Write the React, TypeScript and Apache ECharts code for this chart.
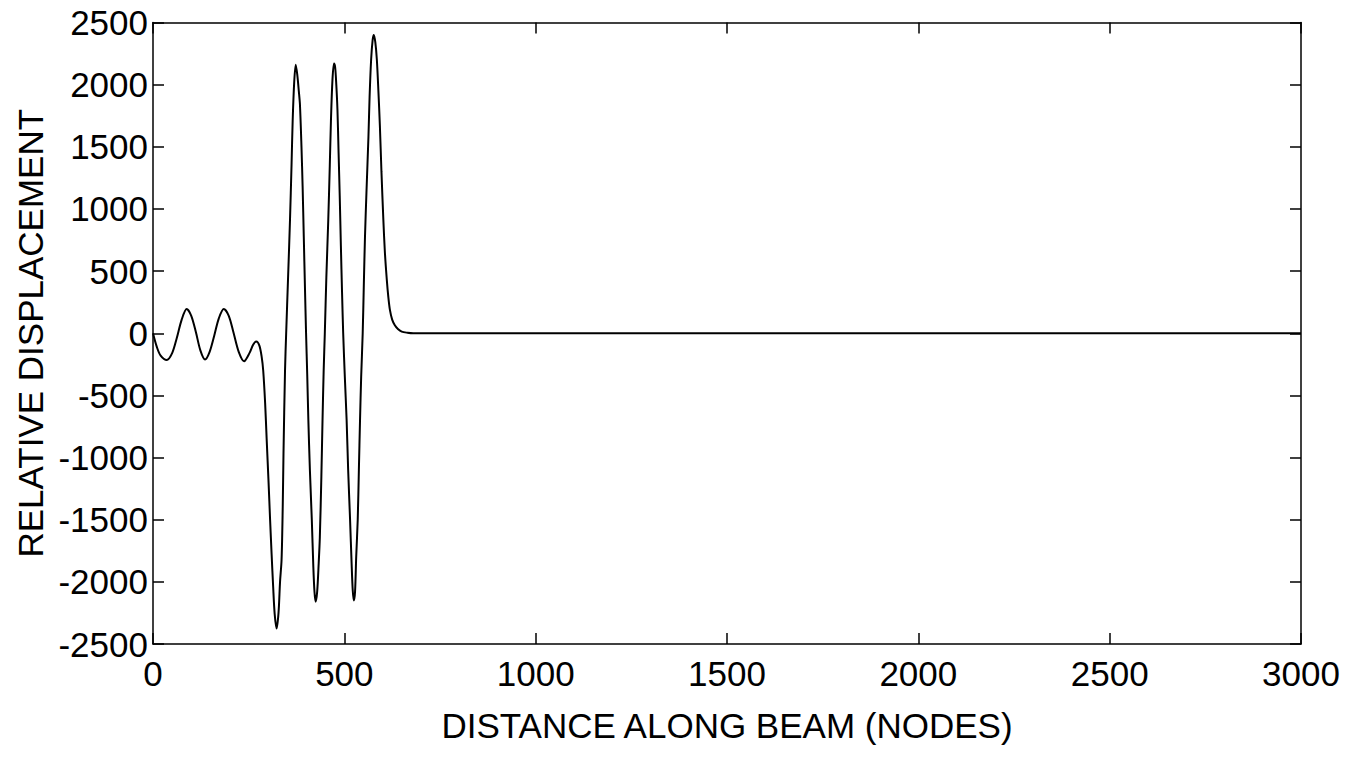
import React, { useEffect, useRef } from "react";
import * as echarts from "echarts";

const nodes: number[] = [
  0, 10, 20, 36, 50, 62, 75, 88, 100, 112, 124, 136, 148, 160, 172, 185, 198, 210, 224, 238,
  252, 262, 270, 278, 284, 288, 293, 297, 302, 306, 310, 314, 318, 323, 328, 332, 336, 339, 341, 345,
  348, 353, 358, 362, 365, 369, 373, 377, 381, 384, 388, 391, 394, 397, 400, 403, 406, 410, 415, 419,
  422, 425, 429, 433, 436, 440, 443, 446, 449, 453, 458, 462, 465, 469, 473, 476, 479, 482, 485, 488,
  491, 494, 497, 501, 506, 510, 515, 519, 522, 525, 528, 531, 535, 538, 541, 544, 548, 551, 554, 558,
  563, 566, 570, 574, 577, 581, 585, 589, 593, 597, 602, 606, 611, 615, 619, 625, 632, 640, 650, 665,
  680, 1000, 1500, 2000, 2500, 3000,
];

const displacement: number[] = [
  0, -110, -180, -215, -160, -40, 110, 195, 140, 10, -140, -212, -150, -20, 120, 195, 140, 10, -150, -225,
  -160, -90, -67, -100, -190, -300, -560, -850, -1200, -1500, -1780, -2040, -2260, -2375, -2250, -2000, -1820, -1400, -970, -300,
  0, 450, 910, 1350, 1710, 2020, 2160, 2080, 1950, 1840, 1500, 1180, 780, 380, 0, -330, -700, -1100, -1500, -1880,
  -2080, -2160, -2080, -1850, -1640, -1150, -700, -300, 0, 450, 910, 1350, 1710, 2040, 2170, 2140, 2000, 1800, 1450, 1100,
  700, 330, 0, -330, -700, -1100, -1500, -1850, -2070, -2150, -2080, -1800, -1500, -1100, -700, -350, 0, 400, 780, 1150,
  1580, 1900, 2200, 2360, 2400, 2340, 2200, 1950, 1660, 1300, 910, 650, 430, 290, 190, 110, 65, 35, 13, 4,
  0, 0, 0, 0, 0, 0,
];

const xTicks = { min: 0, max: 3000, interval: 500 };
const yTicks = { min: -2500, max: 2500, interval: 500 };

const xTitle = "DISTANCE ALONG BEAM (NODES)";
const yTitle = "RELATIVE DISPLACEMENT";

const FONT = "'Liberation Sans', Arial, Helvetica, sans-serif";
const FS = 35;

export default function App() {
  const ref = useRef<HTMLDivElement>(null);

  useEffect(() => {
    if (!ref.current) return;
    const chart = echarts.init(ref.current, undefined, { renderer: "svg" });
    const lineStyle = { color: "#000", width: 1.5 };
    const tick = { show: true, inside: true, length: 11, lineStyle: { color: "#000", width: 1.5 } };
    const fmt = (v: number) => String(v);
    const data = nodes.map((n, i) => [n, displacement[i]]);
    chart.setOption({
      animation: false,
      backgroundColor: "#fff",
      grid: { left: 153, right: 62, top: 22.5, bottom: 117, containLabel: false, outerBoundsMode: "none" },
      xAxis: [
        {
          type: "value",
          position: "bottom",
          ...xTicks,
          axisLine: { show: true, onZero: false, lineStyle },
          axisTick: tick,
          splitLine: { show: false },
          axisLabel: { color: "#000", fontFamily: FONT, fontSize: FS, margin: 12, formatter: fmt, hideOverlap: false },
          name: xTitle,
          nameLocation: "middle",
          nameGap: 64,
          nameMoveOverlap: false,
          nameTextStyle: { color: "#000", fontFamily: FONT, fontSize: FS },
        },
        {
          type: "value",
          position: "top",
          ...xTicks,
          axisLine: { show: true, onZero: false, lineStyle },
          axisTick: tick,
          splitLine: { show: false },
          axisLabel: { show: false },
        },
      ],
      yAxis: [
        {
          type: "value",
          position: "left",
          ...yTicks,
          axisLine: { show: true, onZero: false, lineStyle },
          axisTick: tick,
          splitLine: { show: false },
          axisLabel: { color: "#000", fontFamily: FONT, fontSize: FS, margin: 5, formatter: fmt, hideOverlap: false },
          name: yTitle,
          nameLocation: "middle",
          nameGap: 105,
          nameMoveOverlap: false,
          nameTextStyle: { color: "#000", fontFamily: FONT, fontSize: FS },
        },
        {
          type: "value",
          position: "right",
          ...yTicks,
          axisLine: { show: true, onZero: false, lineStyle },
          axisTick: tick,
          splitLine: { show: false },
          axisLabel: { show: false },
        },
      ],
      series: [
        {
          type: "line",
          data,
          xAxisIndex: 0,
          yAxisIndex: 0,
          showSymbol: false,
          symbol: "none",
          smooth: 0.3,
          lineStyle: { color: "#000", width: 2 },
        },
      ],
    });
    return () => chart.dispose();
  }, []);

  return (
    <div
      ref={ref}
      style={{ position: "fixed", left: 0, top: 0, width: 1363, height: 761, background: "#fff" }}
    />
  );
}
